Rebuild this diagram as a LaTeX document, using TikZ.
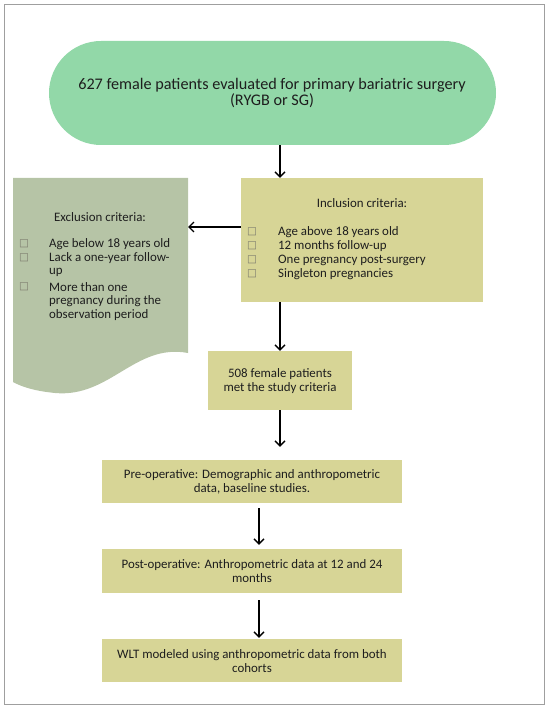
\documentclass[tikz,border=0pt]{standalone}
\usepackage{fontspec}
\setmainfont{Carlito}
\newfontfamily\symfont{DejaVu Sans}
\usetikzlibrary{arrows.meta}
\definecolor{termC}{RGB}{146,216,168}
\definecolor{khakiC}{RGB}{215,213,150}
\definecolor{exclC}{RGB}{182,196,166}
\definecolor{txtC}{RGB}{30,30,30}
\definecolor{bulC}{RGB}{125,125,110}
\begin{document}
\begin{tikzpicture}[x=1pt,y=-1pt,
  arr/.style={-{Straight Barb[length=5pt,width=10pt]}, line width=1.3pt},
  khaki/.style={fill=khakiC, draw=none, inner sep=0pt},
  body/.style={font=\fontsize{12.9}{14}\selectfont, align=center, text=txtC, inner sep=0pt},
  item/.style={font=\fontsize{12.9}{14}\selectfont, anchor=west, text=txtC, inner sep=0pt},
  bul/.style={font=\symfont\fontsize{10.5}{10.5}\selectfont, text=bulC, inner sep=0pt}
]
\useasboundingbox (0,0) rectangle (550,708);
\draw[gray!75, line width=1pt] (4,5) rectangle (544,704);

% terminator
\node[fill=termC, rounded corners=52pt, minimum width=447pt, minimum height=104pt, inner sep=0pt] (start) at (272.5,93) {};
\node[font=\fontsize{16.2}{16}\selectfont, align=center, text=txtC, inner sep=0pt] (starttxt) at (272,93) {627 female patients evaluated for primary bariatric surgery\\(RYGB or SG)};

% inclusion box
\node[khaki, minimum width=242pt, minimum height=124pt] (incl) at (362,240) {};
\node[body] (incltitle) at (362,203) {Inclusion criteria:};
\foreach \t [count=\i] in {Age above 18 years old, 12 months follow-up, One pregnancy post-surgery, Singleton pregnancies}{
  \node[bul] (ib\i) at (252,{218+14*\i}) {□};
  \node[item] (it\i) at (278,{218+14*\i}) {\t};
}

% exclusion document shape
\fill[exclC] (13,178) -- (188,178) -- (188,353)
  .. controls (135,343) and (110,398) .. (55,393)
  .. controls (35,391) and (22,387) .. (13,382) -- cycle;
\coordinate (exclR) at (188,227);
\node[body] (excltitle) at (100,217) {Exclusion criteria:};
\node[bul] (eb1) at (24,244) {□};
\node[item] (et1) at (49,244) {Age below 18 years old};
\node[bul] (eb2) at (24,258) {□};
\node[item] (et2) at (49,258) {Lack a one-year follow-};
\node[item] (et3) at (49,272) {up};
\node[bul] (eb3) at (24,287) {□};
\node[item] (et4) at (49,287) {More than one};
\node[item] (et5) at (49,301) {pregnancy during the};
\node[item] (et6) at (49,315) {observation period};

% 508 box
\node[khaki, minimum width=144pt, minimum height=59pt] (met) at (280,380.5) {};
\node[body] (mettxt) at (280,381) {508 female patients\\met the study criteria};

% lower boxes
\node[khaki, minimum width=300pt, minimum height=43pt] (pre) at (252,481.5) {};
\node[body] (pretxt) at (252,482) {Pre-operative: Demographic and anthropometric\\data, baseline studies.};
\node[khaki, minimum width=300pt, minimum height=44pt] (post) at (252,571) {};
\node[body] (posttxt) at (252,571) {Post-operative: Anthropometric data at 12 and 24\\months};
\node[khaki, minimum width=300pt, minimum height=43pt] (wlt) at (252,660.5) {};
\node[body] (wlttxt) at (252,661) {WLT modeled using anthropometric data from both\\cohorts};

% connectors
\coordinate (ax) at (259,0);
\draw[arr] (start.south -| met) -- (incl.north -| met);
\draw[arr] (incl.west |- exclR) -- (exclR);
\draw[arr] (incl.south -| met) -- (met.north);
\draw[arr, shorten >=13pt] (met.south) -- (pre.north -| met);
\draw[arr, shorten <=5pt, shorten >=4pt] (pre.south -| ax) -- (post.north -| ax);
\draw[arr, shorten <=7pt, shorten >=1pt] (post.south -| ax) -- (wlt.north -| ax);
\end{tikzpicture}
\end{document}
